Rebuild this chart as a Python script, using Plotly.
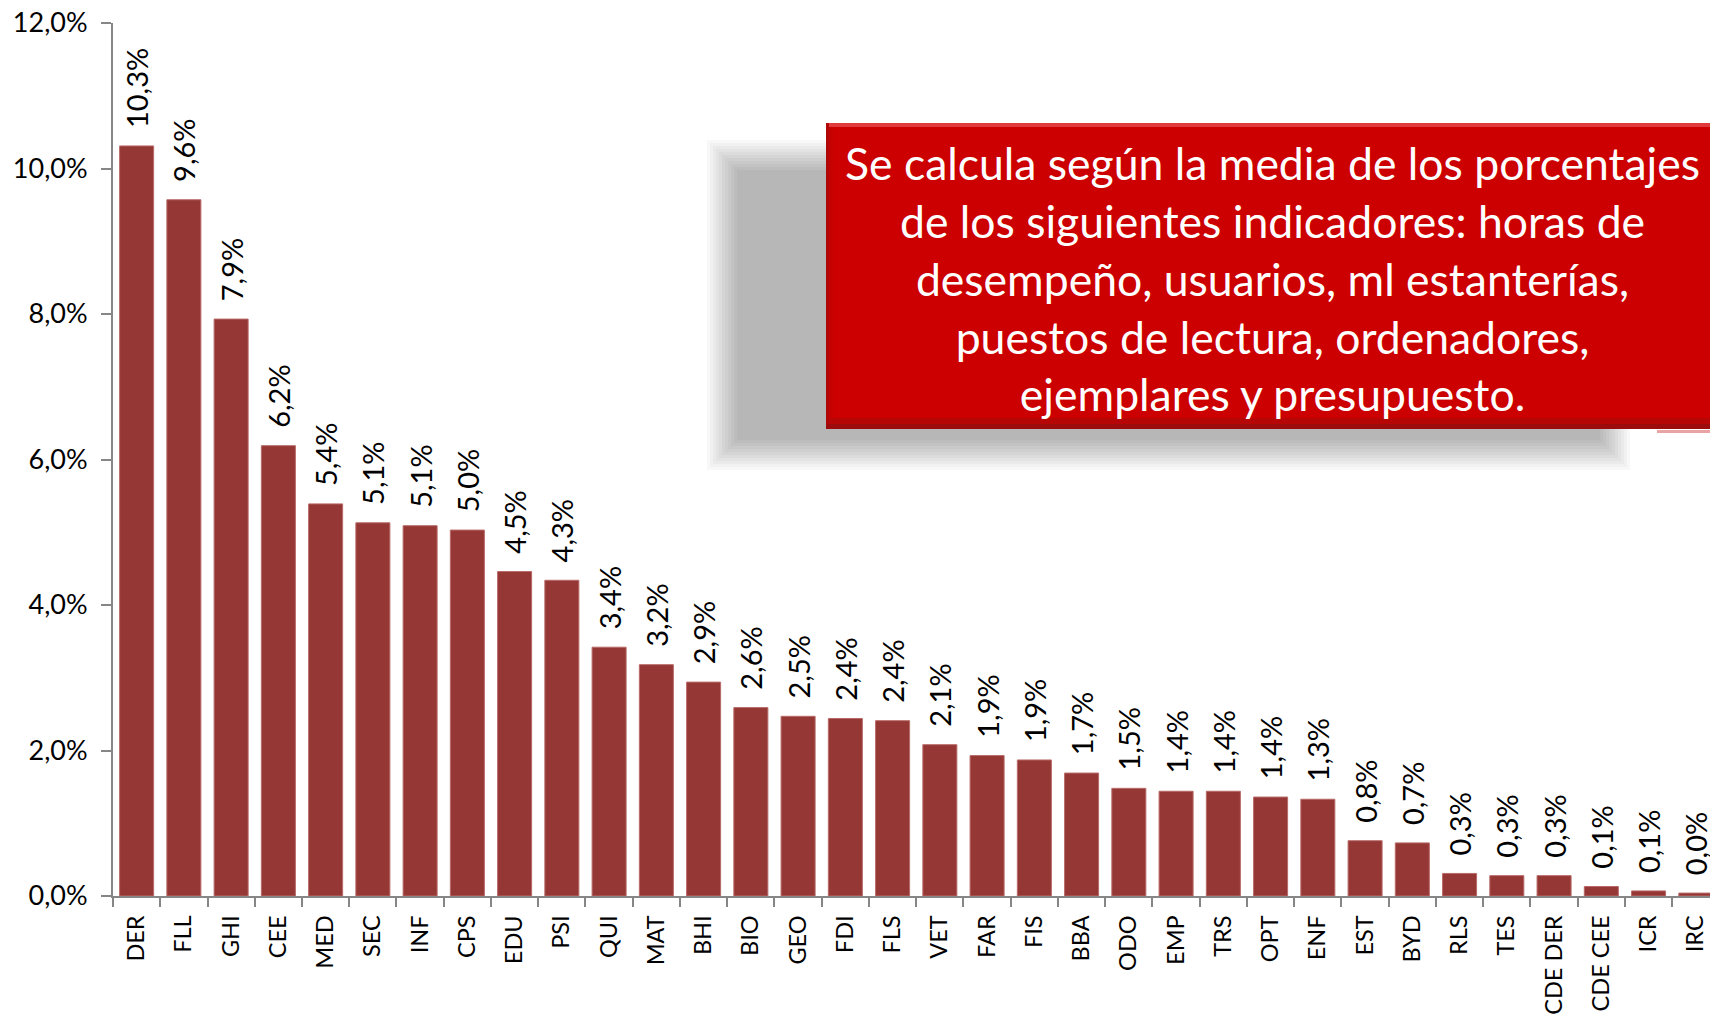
import plotly.graph_objects as go

categories = ["DER", "FLL", "GHI", "CEE", "MED", "SEC", "INF", "CPS", "EDU", "PSI",
              "QUI", "MAT", "BHI", "BIO", "GEO", "FDI", "FLS", "VET", "FAR", "FIS",
              "BBA", "ODO", "EMP", "TRS", "OPT", "ENF", "EST", "BYD", "RLS", "TES",
              "CDE DER", "CDE CEE", "ICR", "IRC"]
values = [10.31, 9.57, 7.93, 6.19, 5.39, 5.13, 5.09, 5.03, 4.46, 4.34,
          3.42, 3.18, 2.94, 2.59, 2.47, 2.44, 2.41, 2.08, 1.93, 1.87,
          1.69, 1.48, 1.44, 1.44, 1.36, 1.33, 0.76, 0.73, 0.31, 0.28,
          0.28, 0.13, 0.07, 0.04]
y_ticks = [0, 2, 4, 6, 8, 10, 12]
y_tick_labels = ["0,0%", "2,0%", "4,0%", "6,0%", "8,0%", "10,0%", "12,0%"]
note_lines = ["Se calcula según la media de los porcentajes",
              "de los siguientes indicadores: horas de",
              "desempeño, usuarios, ml estanterías,",
              "puestos de lectura, ordenadores,",
              "ejemplares y presupuesto."]

FONT = "Lato"
W, H = 1710, 1016
L, T, B = 113, 23, 120
PW, PH = W - L, H - T - B


def px(x):
    return (x - L) / PW


def py(y):
    return (H - B - y) / PH


def rect(x0, y0, x1, y1, color):
    return dict(type="rect", xref="paper", yref="paper",
                x0=px(x0), x1=px(x1) if x1 is not None else 1.02,
                y0=py(y1), y1=py(y0),
                fillcolor=color, line=dict(width=0), layer="above")


fig = go.Figure()
fig.add_trace(go.Bar(
    x=categories, y=values,
    marker=dict(color="#953735", line=dict(color="#b86a68", width=1)),
    width=0.72,
    texttemplate="\u00a0\u00a0%{y:.1f}%",
    textposition="outside",
    textangle=-90,
    constraintext="none",
    cliponaxis=False,
    textfont=dict(family=FONT, size=29, color="black"),
))

shapes = []
# soft, blurred shadow behind the note box
cx0, cx1, cy0, cy1 = 737, 1600, 170, 440
for i in range(11):
    e = 30 - i * 3
    shapes.append(rect(cx0 - e, cy0 - e, cx1 + e, cy1 + e, "rgba(0,0,0,0.026)"))
# red box with bevelled edges
shapes.append(rect(826, 123, None, 429, "#cc0000"))
shapes.append(rect(826, 123, None, 127, "#e03a3a"))
shapes.append(rect(826, 123, 829, 429, "#b00808"))
shapes.append(rect(829, 127, 833, 418, "#c40202"))
shapes.append(rect(829, 418, None, 424, "#b60606"))
shapes.append(rect(826, 424, None, 429, "#9c0c0c"))
shapes.append(rect(1657, 430, None, 433, "#e8a4a4"))

fig.update_layout(
    width=W, height=H,
    margin=dict(l=L, r=0, t=T, b=B),
    paper_bgcolor="white", plot_bgcolor="white",
    separators=",.",
    showlegend=False,
    shapes=shapes,
    annotations=[dict(
        xref="paper", yref="paper",
        x=px(1272), y=py(278),
        xanchor="center", yanchor="middle",
        text="<br>".join(note_lines),
        showarrow=False, align="center",
        font=dict(family=FONT, size=44.5, color="white"),
    )],
    xaxis=dict(
        range=[-0.5, 33.3],
        showline=True, linecolor="#868686", linewidth=2,
        ticks="outside", tickson="boundaries", ticklen=9, tickwidth=2, tickcolor="#868686",
        tickangle=-90, tickfont=dict(family=FONT, size=23.5, color="black"),
        ticklabelstandoff=8,
        showgrid=False, zeroline=False,
    ),
    yaxis=dict(
        range=[0, 12],
        tickvals=y_ticks, ticktext=y_tick_labels,
        showline=True, linecolor="#868686", linewidth=2,
        ticks="outside", ticklen=10, tickwidth=2, tickcolor="#868686",
        tickfont=dict(family=FONT, size=27, color="black"),
        ticklabelstandoff=8,
        showgrid=False, zeroline=False,
    ),
)

fig.write_html("out.html", post_script="document.body.style.margin='0';",
               config={"displayModeBar": False})
